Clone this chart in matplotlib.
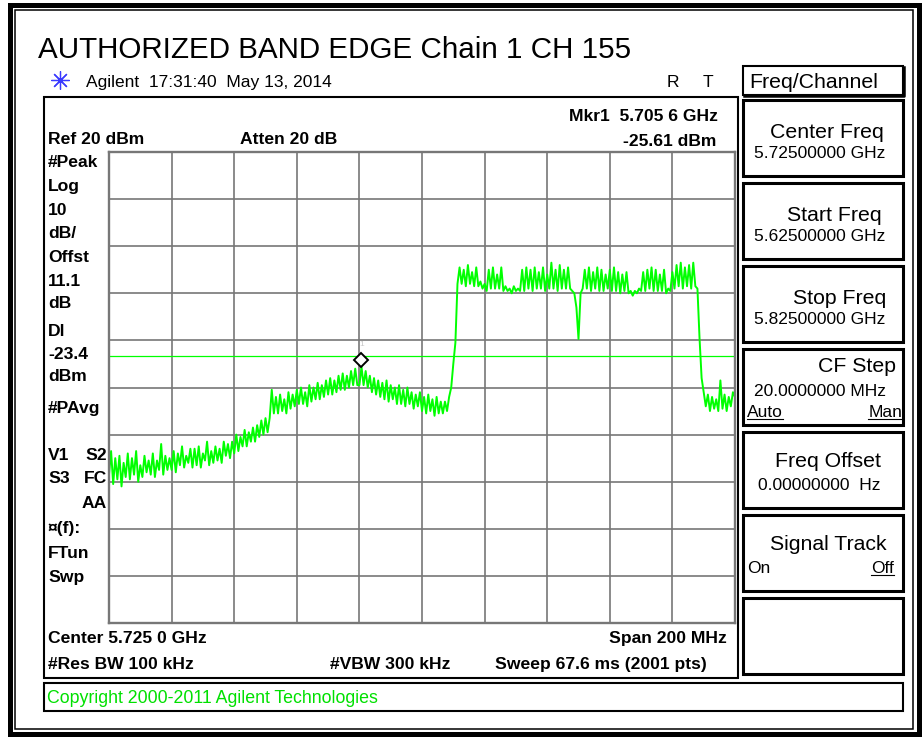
import numpy as np
import matplotlib
matplotlib.use('Agg')
import matplotlib.pyplot as plt
import matplotlib.transforms as mtransforms
from matplotlib.patches import Rectangle

plt.rcParams['font.family'] = ['Liberation Sans', 'DejaVu Sans']

# === SWEEP SETTINGS (from the analyzer screen) ===
start_mhz = 5625.0
stop_mhz = 5825.0
ref_level = 20.0
db_per_div = 10.0
display_line = -23.4
mkr_freq_mhz = 5705.6
mkr_level = -25.61

# trace levels, evenly spaced from start to stop (dBm)
trace_dbm = [
    # lower out-of-band floor
    -48.5, -43.5, -50.5, -45.0, -49.5, -44.5, -51.0, -46.0, -49.0, -44.0,
    -49.5, -45.0, -48.5, -43.5, -50.0, -46.5, -49.0, -44.5, -48.0, -45.5,
    -48.5, -44.0, -49.0, -45.5, -47.5, -42.0, -48.5, -44.5, -47.5, -45.0,
    -47.5, -43.5, -48.0, -44.0, -46.5, -42.5, -47.0, -44.5, -46.0, -43.0,
    -47.0, -43.0, -46.5, -42.5, -47.0, -44.0, -45.5, -41.5, -46.5, -43.5,
    -46.0, -42.5, -45.5, -43.0, -46.0, -41.5, -44.5, -42.0, -45.0, -41.5,
    -44.0, -40.0, -43.5, -40.5, -42.5, -39.0, -42.5, -39.5, -41.5, -38.5,
    -41.5, -38.0, -40.5, -37.0, -40.0, -36.5, -39.5, -36.5,
    # shoulder up to the marker peak and back down
    -30.5, -35.5,
    -32.0, -35.5, -31.5, -35.0, -32.5, -35.5, -31.0, -34.5, -31.5, -34.0,
    -30.5, -33.5, -30.0, -33.5, -31.0, -34.0, -29.5, -33.0, -30.0, -32.5,
    -29.0, -32.5, -29.5, -32.0, -28.5, -31.5, -28.0, -31.5, -28.5, -31.0,
    -27.5, -30.5, -27.0, -30.5, -27.5, -30.0, -26.5, -29.5, -26.0, -29.5,
    -29.5, -25.6, -29.5, -26.5, -30.0, -27.5, -31.0, -28.0, -31.5, -28.5,
    -32.0, -29.0, -32.5, -28.5, -33.0, -29.5, -32.5, -30.0, -33.5, -29.5,
    -33.5, -30.5, -34.0, -30.0, -33.5, -31.0, -34.5, -31.5, -34.0, -31.0,
    -35.0, -32.0, -35.5, -31.5, -35.0, -32.5, -36.0, -32.0, -35.5, -33.0, -35.5,
    # band edge rise
    -33.0, -35.0, -32.0, -30.0, -25.0, -20.5,
    # in-band signal
    -8.0, -4.5, -8.0, -5.0, -8.5, -4.0, -8.0, -5.5, -8.5, -4.5,
    -8.5, -7.5, -9.0, -8.0, -9.5, -5.0, -9.0, -4.5, -9.0, -6.0,
    -9.0, -4.5, -9.5, -8.5, -9.5, -9.0, -10.0, -8.5, -9.5, -9.0,
    -9.5, -5.0, -9.5, -4.5, -9.0, -5.0, -9.5, -4.5, -9.0, -5.5,
    -9.0, -4.5, -9.5, -6.0, -9.0, -3.5, -9.0, -5.0, -9.5, -4.0,
    -9.0, -5.0, -9.0, -4.5, -9.0, -9.5, -10.0, -13.0,
    -19.7, -10.0,
    -9.0, -5.0, -9.0, -4.5, -9.5, -5.5, -9.0, -4.5, -9.5, -5.0,
    -9.5, -6.0, -9.0, -5.0, -9.5, -4.5, -9.5, -5.5, -10.0, -6.0,
    -9.5, -5.5, -10.0, -9.5, -10.5, -9.5, -10.0, -9.0, -9.5, -5.5,
    -9.5, -5.0, -9.0, -4.5, -9.5, -5.0, -9.5, -6.0, -9.5, -5.0,
    -10.0, -9.0, -9.5, -5.5, -9.0, -4.0, -8.5, -3.5, -9.0, -4.5,
    -8.5, -4.0, -9.0, -3.5, -8.5, -9.0,
    # upper band edge and floor
    -19.5, -28.0, -31.0,
    -34.0, -31.5, -35.0, -32.0, -34.5, -32.5, -35.0, -28.5, -34.5, -31.5,
    -35.0, -32.0, -34.0, -31.0, -32.0,
]

# left annotation column
left_labels = ['#Peak', 'Log', '10', 'dB/', 'Offst', '11.1', 'dB', 'Dl', '-23.4',
               'dBm', '#PAvg', 'V1', 'S3', '', '\u00a4(f):', 'FTun', 'Swp']
right_labels = ['', '', '', '', '', '', '', '', '', '', '', 'S2', 'FC', 'AA', '', '', '']
label_y = [161, 185, 209, 232, 256, 280, 302, 330, 353, 375, 407, 454, 477, 502, 527, 552, 576]

# softkey menu
softkey_titles = ['Center Freq', 'Start Freq', 'Stop Freq', 'CF Step', 'Freq Offset', 'Signal Track', '']
softkey_values = ['5.72500000 GHz', '5.62500000 GHz', '5.82500000 GHz', '20.0000000 MHz',
                  '0.00000000  Hz', '', '']

freq_mhz = np.linspace(start_mhz, stop_mhz, len(trace_dbm))

W, H = 923, 738
fig = plt.figure(figsize=(W / 100, H / 100), dpi=100)
fig.patch.set_facecolor('white')

# === BACKGROUND "SCREEN" IN PIXEL COORDS ===
bg = fig.add_axes([0, 0, 1, 1])
bg.set_xlim(0, W)
bg.set_ylim(H, 0)
bg.axis('off')

def box(x, y, w, h, lw, color='black'):
    bg.add_patch(Rectangle((x, y), w, h, fill=False, lw=lw, edgecolor=color))

box(9.5, 4.5, 909, 729, 3.6)
box(15, 10, 898, 719, 1.1)
box(44, 97, 694, 581, 1.5)
box(44, 683, 859, 28, 1.5)
box(743, 66, 160, 29, 1.5)
# heavier shadow edge on the menu title box
bg.plot([744, 904, 904], [96, 96, 67], color='black', lw=1.8)
for k in range(7):
    box(743, 100 + 83 * k, 160, 76, 2.2)

bg.text(38, 58, 'AUTHORIZED BAND EDGE Chain 1 CH 155', fontsize=21.3, va='baseline')
bg.plot([60], [80], marker=(8, 2, 0), ms=13, mec='#3a3aff', mew=0.9, ls='none')
bg.text(86, 87, 'Agilent  17:31:40  May 13, 2014', fontsize=12.5, va='baseline')
bg.text(667, 87, 'R', fontsize=12.5, va='baseline')
bg.text(703, 87, 'T', fontsize=12.5, va='baseline')

bold = dict(fontsize=12.6, fontweight='bold', va='baseline')
bg.text(718, 121, 'Mkr1  5.705 6 GHz', ha='right', **bold)
bg.text(716, 146, '-25.61 dBm', ha='right', **bold)
bg.text(48, 144, 'Ref 20 dBm', **bold)
bg.text(240, 144, 'Atten 20 dB', **bold)
for lab, rlab, y in zip(left_labels, right_labels, label_y):
    bg.text(48, y + 6, lab, **bold)
    if rlab:
        bg.text(107, y + 6, rlab, ha='right', **bold)

bg.text(48, 643, 'Center 5.725 0 GHz', **bold)
bg.text(727, 643, 'Span 200 MHz', ha='right', **bold)
bg.text(48, 669, '#Res BW 100 kHz', **bold)
bg.text(330, 669, '#VBW 300 kHz', **bold)
bg.text(495, 669, 'Sweep 67.6 ms (2001 pts)', **bold)
bg.text(47, 703, 'Copyright 2000-2011 Agilent Technologies', fontsize=12.8,
        color='#00e000', va='baseline')

# softkey texts
bg.text(749, 88, 'Freq/Channel', fontsize=15.3, va='baseline')
title_x = [884, 882, 886, 896, 881, 887]
title_y = [131, 214, 297, 365, 460, 543]
value_x = [754, 754, 754, 754, 758]
value_y = [152, 235, 318, 390, 484]
for t, x, y in zip(softkey_titles, title_x, title_y):
    bg.text(x, y + 7, t, fontsize=15.3, ha='right', va='baseline')
for v, x, y in zip(softkey_values, value_x, value_y):
    bg.text(x, y + 6, v, fontsize=12.5, va='baseline')

opt_texts = []
opt_texts.append((bg.text(747, 417, 'Auto', fontsize=12.5, va='baseline'), 419))
opt_texts.append((bg.text(902, 417, 'Man', fontsize=12.5, ha='right', va='baseline'), 419))
bg.text(747, 573, 'On', fontsize=12.5, va='baseline')
opt_texts.append((bg.text(894, 573, 'Off', fontsize=12.5, ha='right', va='baseline'), 575))

# === TRACE AREA ===
ax = fig.add_axes([109 / W, 1 - 623 / H, 626 / W, 471 / H])
ax.set_xlim(start_mhz, stop_mhz)
ax.set_ylim(ref_level - 10 * db_per_div, ref_level)
ax.set_xticks(np.linspace(start_mhz, stop_mhz, 11))
ax.set_yticks(np.linspace(ref_level - 10 * db_per_div, ref_level, 11))
ax.tick_params(length=0, labelbottom=False, labelleft=False)
ax.grid(True, color='#777777', lw=1.2)
ax.set_axisbelow(True)
for s in ax.spines.values():
    s.set_color('#777777')
    s.set_linewidth(1.7)

ax.plot(freq_mhz, trace_dbm, color='#00ff00', lw=1.4)
ax.axhline(display_line, color='#00ff00', lw=0.9)

mkr_trans = mtransforms.offset_copy(ax.transData, fig=fig, x=0, y=5, units='points')
ax.plot([mkr_freq_mhz], [mkr_level], marker='D', ms=7, mfc='white', mec='black',
        mew=1.4, transform=mkr_trans, zorder=5)
ax.annotate('1', (mkr_freq_mhz, mkr_level), xytext=(0, 15), textcoords='offset points',
            fontsize=6, color='#c8c8c8', ha='center')

# underline the selected softkey options
fig.canvas.draw()
inv = bg.transData.inverted()
for t, uy in opt_texts:
    bb = t.get_window_extent()
    (x0, _), (x1, _) = inv.transform([[bb.x0, bb.y0], [bb.x1, bb.y0]])
    bg.plot([x0, x1], [uy, uy], color='black', lw=0.8)

fig.savefig('out.png', dpi=100)
